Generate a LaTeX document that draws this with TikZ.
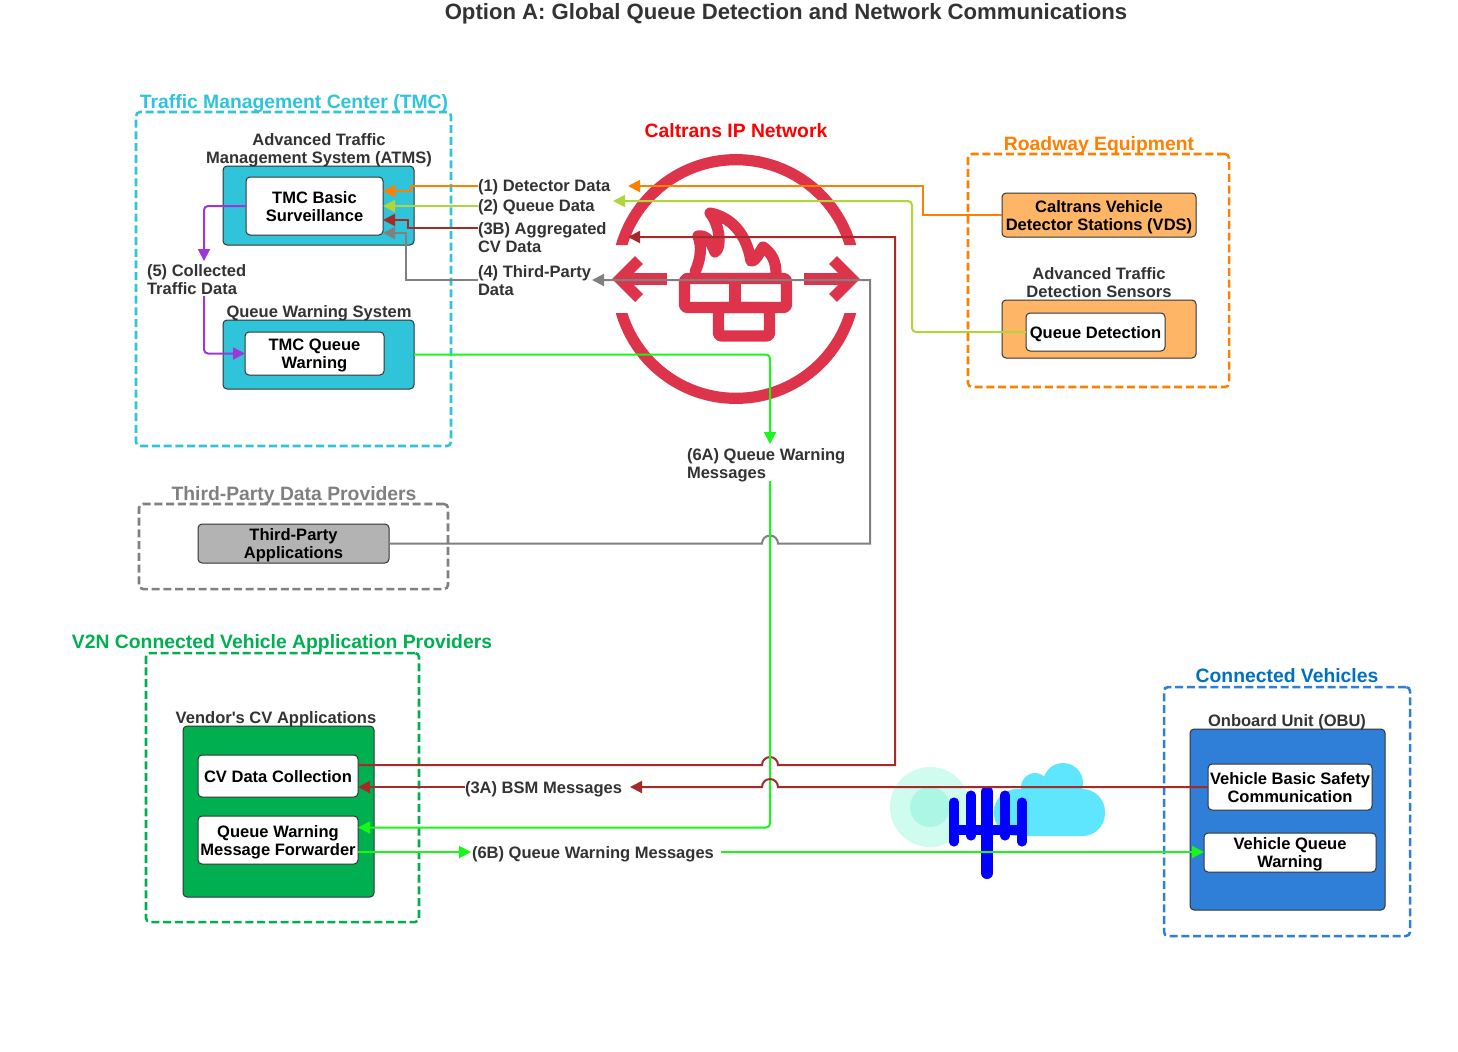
\documentclass[tikz,border=0pt]{standalone}
\usepackage{fontspec}
\setmainfont{Liberation Sans}
\usetikzlibrary{arrows.meta}
\definecolor{cTmc}{HTML}{2FC4D9}
\definecolor{cOrange}{HTML}{FF8000}
\definecolor{cYg}{HTML}{B0D63A}
\definecolor{cRed}{HTML}{A52A2A}
\definecolor{cGray}{HTML}{808080}
\definecolor{cPurple}{HTML}{A035D8}
\definecolor{cGreen}{HTML}{18F818}
\definecolor{cV}{HTML}{00B050}
\definecolor{cBlue}{HTML}{2F7ED8}
\definecolor{cBlueT}{HTML}{0070C0}
\definecolor{cFw}{HTML}{DD344C}
\definecolor{cTxt}{HTML}{333333}
\definecolor{cPeach}{HTML}{FFB566}
\definecolor{cTp}{HTML}{B3B3B3}
\definecolor{cMintA}{HTML}{D0FBEF}
\definecolor{cMintB}{HTML}{ABF7E3}
\definecolor{cCloud}{HTML}{5EE6FF}
\newcommand{\bt}[1]{\raisebox{-2pt}[\height][\depth]{\begin{tabular}{@{}c@{}}#1\end{tabular}}}
\newcommand{\bx}[7]{%
  \pgfmathsetmacro{\cxx}{(#2+#4)/2}\pgfmathsetmacro{\cyy}{(#3+#5)/2}%
  \pgfmathsetmacro{\ww}{(#4-#2)*0.75}\pgfmathsetmacro{\hh}{(#5-#3)*0.75}%
  \node[#6,minimum width=\ww pt,minimum height=\hh pt] (#1) at (\cxx,\cyy) {#7};}
\tikzset{
  every node/.style={inner sep=0pt,outer sep=0pt,font=\fontsize{12.4}{13.5}\selectfont\bfseries,align=center},
  groupbox/.style={draw,line width=1.9pt,dash pattern=on 6pt off 2.8pt,rounded corners=3pt},
  solidbox/.style={draw=black!80,line width=0.75pt,rounded corners=3pt},
  whitebox/.style={solidbox,fill=white,text=black},
  grouptitle/.style={font=\fontsize{14.5}{16}\selectfont\bfseries},
  lab/.style={text=cTxt},
  flow/.style={line width=1.5pt,-{Triangle[length=9pt,width=9pt]}},
  fw/.style={draw=cFw,line width=8.4pt,line join=round}
}
\begin{document}
\begin{tikzpicture}[x=0.75pt,y=-0.75pt]
\fill[white] (0,0) rectangle (1458,1051);
\useasboundingbox (0,0) rectangle (1458,1051);
% firewall icon
\begin{scope}
\clip (600,140) rectangle (880,245) (600,313) rectangle (880,420);
\draw[fw] (736,279) circle[radius=89.5pt];
\end{scope}
\draw[fw,line join=miter] (667,279) -- (620,279);
\draw[fw,line join=miter] (639,260) -- (620,279) -- (639,298);
\draw[fw] (804,279) -- (851,279);
\draw[fw,line join=miter] (833,260) -- (852,279) -- (833,298);
\draw[fw,rounded corners=2pt] (684.5,278.5) rectangle (786.5,307.5);
\draw[fw] (735,278.5) -- (735,307.5);
\draw[fw,rounded corners=2pt] (718.5,307.5) rectangle (769.5,336);
\draw[fw,line cap=round] (695,272) .. controls (701,258) and (702,247) .. (698,236)
  .. controls (706,235) and (710,240) .. (715,252)
  .. controls (722,248) and (720,225) .. (710,213)
  .. controls (730,217) and (746,232) .. (751,261)
  .. controls (755,262) and (758,255) .. (763,247)
  .. controls (772,253) and (776,262) .. (776,273);
% cloud / tower icon
\fill[cMintA] (930,807) circle[radius=30pt];
\fill[cMintB] (930,807) circle[radius=15pt];
\fill[cCloud,rounded corners=17pt] (994,789) rectangle (1105,836);
\fill[cCloud] (1063,783) circle[radius=15pt] (1035,787) circle[radius=10.5pt];
\begin{scope}[draw=blue,line cap=round]
\draw[line width=6.8pt] (954,802) -- (954,842) (1022,802) -- (1022,842);
\draw[line width=6.8pt] (971,795) -- (971,836) (1005,795) -- (1005,836);
\draw[line width=9pt] (987,792) -- (987,873);
\draw[line width=7.5pt,line cap=butt] (954,830) -- (1022,830);
\end{scope}
% groups
\bx{tmc}{136}{112}{451}{446}{groupbox,draw=cTmc}{}
\bx{road}{968}{154}{1229}{387}{groupbox,draw=cOrange}{}
\bx{tpg}{139}{504}{448}{589}{groupbox,draw=cGray}{}
\bx{v2n}{146}{653}{419}{922}{groupbox,draw=cV}{}
\bx{cvg}{1164}{687}{1410}{936}{groupbox,draw=cBlue}{}
% outer boxes
\bx{atms}{223}{166}{414}{245}{solidbox,fill=cTmc}{}
\bx{qws}{223}{320}{414}{389}{solidbox,fill=cTmc}{}
\bx{vendor}{183}{726}{374}{897}{solidbox,fill=cV}{}
\bx{obu}{1190}{729}{1385}{910}{solidbox,fill=cBlue}{}
\bx{sensors}{1002}{300}{1196}{358}{solidbox,fill=cPeach}{}
% inner boxes
\bx{basic}{246}{177}{383}{235}{whitebox}{\bt{TMC Basic\\ Surveillance}}
\bx{qwarn}{245}{332}{384}{375}{whitebox}{\bt{TMC Queue\\ Warning}}
\bx{tpapp}{198}{524}{389}{563}{solidbox,fill=cTp,text=black}{\bt{Third-Party\\ Applications}}
\bx{cvdc}{198}{755}{358}{797}{whitebox}{\bt{CV Data Collection}}
\bx{qwmf}{198}{816}{358}{864}{whitebox}{\bt{Queue Warning\\ Message Forwarder}}
\bx{vbsc}{1208}{764}{1372}{810}{whitebox}{\bt{Vehicle Basic Safety\\ Communication}}
\bx{vqw}{1204}{833}{1376}{872}{whitebox}{\bt{Vehicle Queue\\ Warning}}
\bx{vds}{1002}{193}{1196}{237}{solidbox,fill=cPeach,text=black}{\bt{Caltrans Vehicle\\ Detector Stations (VDS)}}
\bx{qdet}{1026}{313}{1165}{351}{whitebox}{\bt{Queue Detection}}
% titles
\node[font=\fontsize{16.6}{18}\selectfont\bfseries,text=cTxt] (title) at (786,14) {Option A: Global Queue Detection and Network Communications};
\node[grouptitle,text=cTmc] (ttmc) at (294,104) {Traffic Management Center (TMC)};
\node[grouptitle,text=red] (tip) at (736,131) {Caltrans IP Network};
\node[grouptitle,text=cOrange] (troad) at (1099,145) {Roadway Equipment};
\node[grouptitle,text=cGray] (ttp) at (294,495) {Third-Party Data Providers};
\node[grouptitle,text=cV] (tv2n) at (282,643) {V2N Connected Vehicle Application Providers};
\node[grouptitle,text=cBlueT] (tcv) at (1287,676) {Connected Vehicles};
\node[lab] (latms) at (319,150) {Advanced Traffic\\ Management System (ATMS)};
\node[lab] (lqws) at (319,313) {Queue Warning System};
\node[lab] (lsens) at (1099,283) {Advanced Traffic\\ Detection Sensors};
\node[lab] (lvend) at (276,719) {Vendor\textquotesingle s CV Applications};
\node[lab] (lobu) at (1287,722) {Onboard Unit (OBU)};
% flow labels
\node[lab,anchor=west,align=left] (l1) at (478,187) {(1) Detector Data};
\node[lab,anchor=west,align=left] (l2) at (478,207) {(2) Queue Data};
\node[lab,anchor=west,align=left] (l3b) at (478,238) {(3B) Aggregated\\ CV Data};
\node[lab,anchor=west,align=left] (l4) at (478,281) {(4) Third-Party\\ Data};
\node[lab,anchor=west,align=left] (l5) at (147,280) {(5) Collected\\ Traffic Data};
\node[lab,anchor=west,align=left] (l6a) at (687,465) {(6A) Queue Warning\\ Messages};
\node[lab,anchor=west] (l3a) at (465,789) {(3A) BSM Messages};
\node[lab,anchor=west] (l6b) at (472,854) {(6B) Queue Warning Messages};
\coordinate (e1) at (628,186);
\coordinate (e2) at (613,201);
\coordinate (e3) at (628,237);
\coordinate (e4) at (592,280);
\coordinate (s1) at (478,186);
\coordinate (s2) at (478,206);
\coordinate (s3b) at (478,228);
\coordinate (s4) at (478,280);
\coordinate (s3a) at (465,787);
\coordinate (e6b) at (471,852);
\coordinate (s6b) at (721,852);
% connectors
\draw[flow,cOrange] (vds.west) -- (923,215) -- (923,186) -- (e1);
\draw[flow,cOrange] (s1) -- (411,186) -- (411,191) -- (basic.east |- 0,191);
\draw[flow,cYg,rounded corners=3pt] (qdet.west) -- (912,332) -- (912,201) -- (e2);
\draw[flow,cYg] (s2) -- (basic.east |- s2);
\draw[flow,cRed] (cvdc.east |- 0,765) -- (762,765) arc[start angle=180,end angle=0,radius=6pt] -- (895,765) -- (895,237) -- (e3);
\draw[flow,cRed] (s3b) -- (408,228) -- (408,220) -- (basic.east |- 0,220);
\draw[flow,cGray] (tpapp.east) -- (762,543.5) arc[start angle=180,end angle=0,radius=6pt] -- (870,543.5) -- (870,280) -- (e4);
\draw[flow,cGray] (s4) -- (406,280) -- (406,233) -- (basic.east |- 0,233);
\draw[flow,cPurple,rounded corners=3pt] (basic.west) -- (204,206) -- (204,261);
\draw[flow,cPurple,rounded corners=3pt] (204,296) -- (204,353.5) -- (qwarn.west);
\draw[flow,cGreen,rounded corners=3pt] (qws.east) -- (770,354.5) -- (770,444);
\draw[flow,cGreen,rounded corners=3pt] (770,481) -- (770,827.5) -- (qwmf.east |- 0,827.5);
\draw[flow,cRed] (vbsc.west |- 0,787) -- (778,787) arc[start angle=0,end angle=180,radius=6pt] -- (630,787);
\draw[flow,cRed] (s3a) -- (cvdc.east |- s3a);
\draw[flow,cGreen] (qwmf.east |- e6b) -- (e6b);
\draw[flow,cGreen] (s6b) -- (vqw.west |- s6b);
\end{tikzpicture}
\end{document}
